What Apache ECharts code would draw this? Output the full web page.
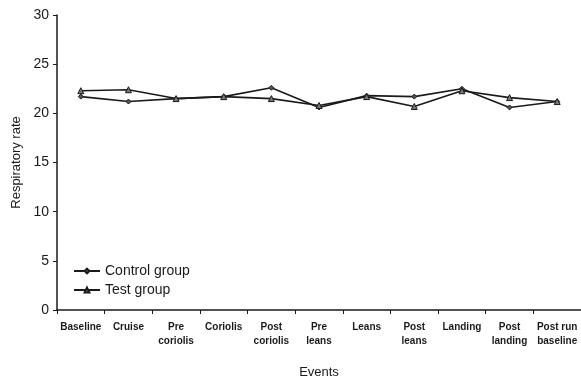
<!DOCTYPE html>
<html>
<head>
<meta charset="utf-8">
<script src="https://cdn.jsdelivr.net/npm/echarts@6/dist/echarts.min.js"></script>
<style>
  html, body { margin: 0; padding: 0; background: #fff; }
  #main { width: 581px; height: 379px; }
</style>
</head>
<body>
<div id="main"></div>
<script>
var events = ['Baseline', 'Cruise', 'Pre\ncoriolis', 'Coriolis', 'Post\ncoriolis', 'Pre\nleans',
  'Leans', 'Post\nleans', 'Landing', 'Post\nlanding', 'Post run\nbaseline']
var controlGroup = [21.7, 21.2, 21.5, 21.7, 22.6, 20.6, 21.8, 21.7, 22.5, 20.6, 21.2]
var testGroup = [22.3, 22.4, 21.5, 21.7, 21.5, 20.8, 21.7, 20.7, 22.3, 21.6, 21.2]

var chart = echarts.init(document.getElementById('main'))
var font = 'Liberation Sans, Arial, sans-serif'
var ink = '#1a1a1a'

chart.setOption({
  animation: false,
  textStyle: { fontFamily: font },
  grid: { left: 57, right: 0, top: 15, bottom: 69, outerBoundsMode: 'none' },
  legend: {
    orient: 'vertical',
    left: 68,
    top: 259,
    itemGap: 5,
    itemWidth: 26,
    itemHeight: 6,
    textStyle: { fontSize: 14, color: ink, fontFamily: font },
    data: ['Control group', 'Test group']
  },
  xAxis: {
    type: 'category',
    data: events,
    name: 'Events',
    nameLocation: 'middle',
    nameGap: 56,
    nameTextStyle: { fontSize: 13, color: ink },
    boundaryGap: true,
    axisLine: { lineStyle: { color: ink, width: 1.5 } },
    axisTick: { show: true, length: 4, lineStyle: { color: ink } },
    axisLabel: { color: ink, fontSize: 10, fontWeight: 'bold', interval: 0, margin: 10, lineHeight: 14 }
  },
  yAxis: {
    type: 'value',
    min: 0,
    max: 30,
    interval: 5,
    name: 'Respiratory rate',
    nameLocation: 'middle',
    nameGap: 33,
    nameTextStyle: { fontSize: 13, color: ink },
    splitLine: { show: false },
    axisLine: { show: true, lineStyle: { color: ink, width: 1.5 } },
    axisTick: { show: true, length: 4, lineStyle: { color: ink } },
    axisLabel: { color: ink, fontSize: 14, margin: 8 }
  },
  series: [
    {
      name: 'Control group',
      type: 'line',
      data: controlGroup,
      symbol: 'diamond',
      symbolSize: 5,
      lineStyle: { color: ink, width: 1.6 },
      itemStyle: { color: '#555', borderColor: ink, borderWidth: 1 }
    },
    {
      name: 'Test group',
      type: 'line',
      data: testGroup,
      symbol: 'triangle',
      symbolSize: 6,
      lineStyle: { color: ink, width: 1.6 },
      itemStyle: { color: '#777', borderColor: ink, borderWidth: 1 }
    }
  ]
})
</script>
</body>
</html>
